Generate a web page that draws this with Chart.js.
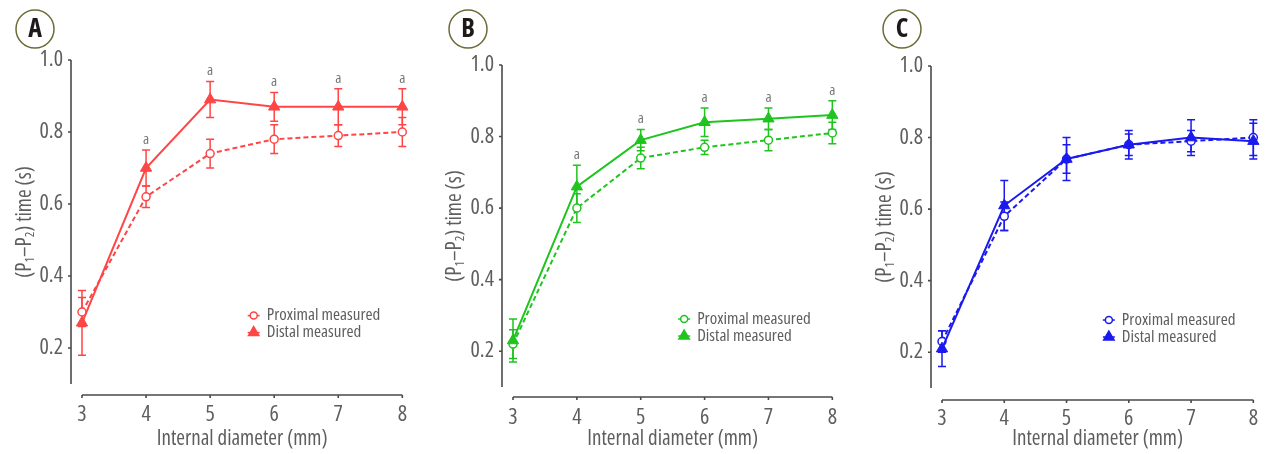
<!DOCTYPE html>
<html>
<head>
<meta charset="utf-8">
<script src="https://cdn.jsdelivr.net/npm/chart.js@4.4.1/dist/chart.umd.min.js"></script>
<style>
  body { margin: 0; background: #fff; width: 1276px; height: 454px; position: relative; overflow: hidden; }
  .panel { position: absolute; top: 0; height: 454px; }
</style>
</head>
<body>
<div class="panel" style="left:0;width:425px"><canvas id="chartA" width="425" height="454"></canvas></div>
<div class="panel" style="left:430px;width:425px"><canvas id="chartB" width="425" height="454"></canvas></div>
<div class="panel" style="left:860px;width:416px"><canvas id="chartC" width="416" height="454"></canvas></div>
<script>
// x values (internal diameter, mm) and y tick labels
const diameters = [3, 4, 5, 6, 7, 8]
const yTickValues = [0.2, 0.4, 0.6, 0.8, 1.0]

// Panel A
const proximalA = [0.30, 0.62, 0.74, 0.78, 0.79, 0.80]
const proximalErrA = [0.04, 0.03, 0.04, 0.04, 0.03, 0.04]
const distalA = [0.27, 0.70, 0.89, 0.87, 0.87, 0.87]
const distalErrA = [0.09, 0.05, 0.05, 0.04, 0.05, 0.05]
const marksA = ['', 'a', 'a', 'a', 'a', 'a']

// Panel B
const proximalB = [0.22, 0.60, 0.74, 0.77, 0.79, 0.81]
const proximalErrB = [0.04, 0.04, 0.03, 0.02, 0.03, 0.03]
const distalB = [0.23, 0.66, 0.79, 0.84, 0.85, 0.86]
const distalErrB = [0.06, 0.06, 0.03, 0.04, 0.03, 0.04]
const marksB = ['', 'a', 'a', 'a', 'a', 'a']

// Panel C
const proximalC = [0.23, 0.58, 0.74, 0.78, 0.79, 0.80]
const proximalErrC = [0.03, 0.04, 0.04, 0.04, 0.03, 0.05]
const distalC = [0.21, 0.61, 0.74, 0.78, 0.80, 0.79]
const distalErrC = [0.05, 0.07, 0.06, 0.03, 0.05, 0.05]
const marksC = ['', '', '', '', '', '']

// condensed face, close to the original's narrow type
const FAMILY = '"Open Sans", "Roboto Condensed", sans-serif'
const COND = 'condensed'
const fontStr = (size, weight) => (weight || COND) + ' ' + size + 'px ' + FAMILY
const TEXT = '#5e5e5e'
const AXIS = '#4a4a4a'

function makePanel(id, letter, color, prox, proxErr, dist, distErr, marks, geom) {
  const canvas = document.getElementById(id)
  const W = canvas.width, H = canvas.height

  const axesPlugin = {
    id: 'axesLines',
    beforeDatasetsDraw(chart) {
      const { ctx, scales: { x, y } } = chart
      ctx.save()
      ctx.strokeStyle = AXIS
      ctx.lineWidth = 1.6
      ctx.beginPath()
      ctx.moveTo(geom.yAxisX, y.getPixelForValue(1.0))
      ctx.lineTo(geom.yAxisX, y.getPixelForValue(0.1))
      yTickValues.forEach(v => {
        const py = y.getPixelForValue(v)
        ctx.moveTo(geom.yAxisX, py)
        ctx.lineTo(geom.yAxisX - 3, py)
      })
      ctx.moveTo(x.getPixelForValue(diameters[0]), geom.xAxisY)
      ctx.lineTo(x.getPixelForValue(diameters[diameters.length - 1]), geom.xAxisY)
      diameters.forEach(d => {
        const px = x.getPixelForValue(d)
        ctx.moveTo(px, geom.xAxisY)
        ctx.lineTo(px, geom.xAxisY + 3)
      })
      ctx.stroke()
      ctx.restore()
    }
  }

  const errorBars = {
    id: 'errorBars',
    beforeDatasetsDraw(chart) {
      const { ctx, scales: { x, y } } = chart
      chart.data.datasets.forEach(ds => {
        ctx.save()
        ctx.strokeStyle = ds.borderColor
        ctx.lineWidth = 1.5
        ds.data.forEach((p, i) => {
          const px = x.getPixelForValue(p.x)
          const top = y.getPixelForValue(p.y + ds.err[i])
          const bot = y.getPixelForValue(p.y - ds.err[i])
          ctx.beginPath()
          ctx.moveTo(px, top); ctx.lineTo(px, bot)
          ctx.moveTo(px - 4, top); ctx.lineTo(px + 4, top)
          ctx.moveTo(px - 4, bot); ctx.lineTo(px + 4, bot)
          ctx.stroke()
        })
        ctx.restore()
      })
    }
  }

  const extras = {
    id: 'extras',
    afterDraw(chart) {
      const { ctx, scales: { x, y }, chartArea } = chart
      ctx.save()

      // significance marks above distal error bars
      const distal = chart.data.datasets[1]
      ctx.fillStyle = '#777777'
      ctx.font = fontStr(15)
      ctx.textAlign = 'center'
      ctx.textBaseline = 'bottom'
      distal.data.forEach((p, i) => {
        if (!marks[i]) return
        ctx.fillText(marks[i], x.getPixelForValue(p.x), y.getPixelForValue(p.y + distal.err[i]) - 3)
      })

      // legend
      const lx = x.getPixelForValue(5.68)
      let ly = y.getPixelForValue(0.29)
      chart.data.datasets.forEach((ds, i) => {
        ctx.strokeStyle = ds.borderColor
        ctx.lineWidth = 1.5
        ctx.beginPath()
        ctx.moveTo(lx - 6, ly); ctx.lineTo(lx + 6, ly)
        ctx.stroke()
        ctx.fillStyle = ds.pointBackgroundColor
        Chart.helpers.drawPoint(ctx, {
          pointStyle: ds.pointStyle,
          radius: i === 0 ? 3.5 : 6,
          borderWidth: 1.5,
          rotation: 0
        }, lx, ly)
        ctx.fillStyle = TEXT
        ctx.font = fontStr(17)
        ctx.textAlign = 'left'
        ctx.textBaseline = 'middle'
        ctx.fillText(ds.label, lx + 13, ly)
        ly += 17
      })

      // y axis title with subscripts
      const big = fontStr(21)
      const small = fontStr(13)
      const parts = [['(P', big, 0], ['1', small, 5], ['\u2013P', big, 0], ['2', small, 5], [') time (s)', big, 0]]
      let total = 0
      parts.forEach(pt => { ctx.font = pt[1]; total += ctx.measureText(pt[0]).width })
      ctx.translate(geom.titleX, (chartArea.top + chartArea.bottom) / 2)
      ctx.rotate(-Math.PI / 2)
      ctx.fillStyle = TEXT
      ctx.textAlign = 'left'
      ctx.textBaseline = 'middle'
      let tx = -total / 2
      parts.forEach(pt => {
        ctx.font = pt[1]
        ctx.fillText(pt[0], tx, pt[2])
        tx += ctx.measureText(pt[0]).width
      })
      ctx.restore()

      // panel letter
      ctx.save()
      ctx.beginPath()
      ctx.arc(geom.letterX, 29, 19, 0, Math.PI * 2)
      ctx.strokeStyle = '#6b6b38'
      ctx.lineWidth = 1.5
      ctx.stroke()
      ctx.fillStyle = '#1e1a1a'
      ctx.font = fontStr(26, 'bold condensed')
      ctx.textAlign = 'center'
      ctx.textBaseline = 'middle'
      ctx.fillText(letter, geom.letterX, 30)
      ctx.restore()
    }
  }

  // Chart.js writes weight in front of the size, so the stretch keyword goes there
  const tickFont = { family: FAMILY, size: 22, weight: COND }
  const titleFont = { family: FAMILY, size: 21, weight: COND }

  return new Chart(canvas, {
    type: 'line',
    data: {
      datasets: [
        {
          label: 'Proximal measured',
          data: diameters.map((d, i) => ({ x: d, y: prox[i] })),
          err: proxErr,
          borderColor: color,
          borderWidth: 2,
          borderDash: [5, 3],
          pointStyle: 'circle',
          pointRadius: 4,
          pointBackgroundColor: '#ffffff',
          pointBorderColor: color,
          pointBorderWidth: 1.5,
          clip: false,
          order: 2
        },
        {
          label: 'Distal measured',
          data: diameters.map((d, i) => ({ x: d, y: dist[i] })),
          err: distErr,
          borderColor: color,
          borderWidth: 2,
          pointStyle: 'triangle',
          pointRadius: 6.5,
          pointBackgroundColor: color,
          pointBorderColor: color,
          pointBorderWidth: 1,
          clip: false,
          order: 1
        }
      ]
    },
    options: {
      responsive: false,
      animation: false,
      layout: { padding: { top: geom.top, right: W - geom.right, left: 0, bottom: 0 } },
      plugins: { legend: { display: false }, tooltip: { enabled: false } },
      scales: {
        x: {
          type: 'linear',
          min: 3,
          max: 8,
          afterFit: s => { s.height = H - geom.bottom },
          grid: { display: false, drawTicks: false },
          border: { display: false },
          ticks: { stepSize: 1, padding: 18, color: TEXT, font: tickFont },
          title: {
            display: true,
            text: 'Internal diameter (mm)',
            color: TEXT,
            font: titleFont,
            padding: { top: 0, bottom: 2 }
          }
        },
        y: {
          min: 0.1,
          max: 1.0,
          afterFit: s => { s.width = geom.left },
          afterBuildTicks: s => { s.ticks = yTickValues.map(v => ({ value: v })) },
          grid: { display: false, drawTicks: false },
          border: { display: false },
          ticks: { padding: 19, color: TEXT, font: tickFont, callback: v => v.toFixed(1) }
        }
      }
    },
    plugins: [axesPlugin, errorBars, extras]
  })
}

makePanel('chartA', 'A', '#ff4545', proximalA, proximalErrA, distalA, distalErrA, marksA,
  { left: 82, right: 406, top: 60, bottom: 384, yAxisX: 71, xAxisY: 395, titleX: 25, letterX: 35 })
makePanel('chartB', 'B', '#1fc41f', proximalB, proximalErrB, distalB, distalErrB, marksB,
  { left: 83, right: 405, top: 65, bottom: 387, yAxisX: 72, xAxisY: 397, titleX: 25, letterX: 38 })
makePanel('chartC', 'C', '#1a1aee', proximalC, proximalErrC, distalC, distalErrC, marksC,
  { left: 82, right: 406, top: 66, bottom: 388, yAxisX: 71, xAxisY: 400, titleX: 25, letterX: 42 })
</script>
</body>
</html>
